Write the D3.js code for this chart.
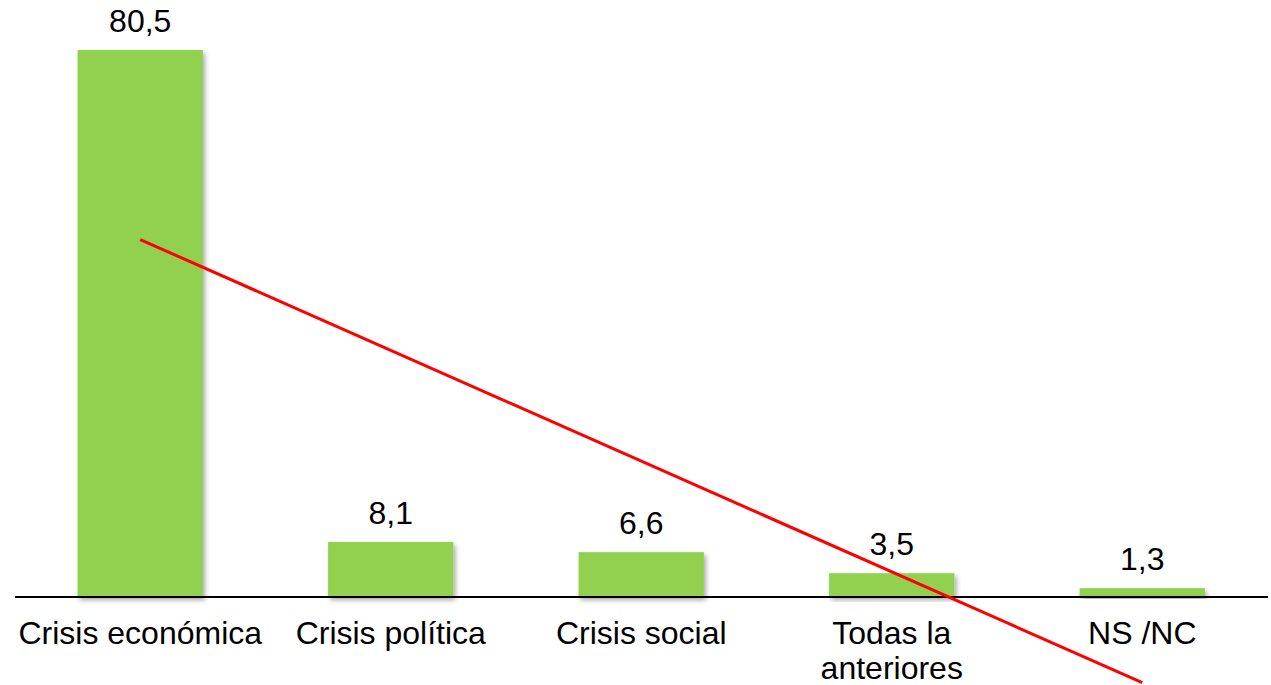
<!DOCTYPE html>
<html>
<head>
<meta charset="utf-8">
<script src="https://cdn.jsdelivr.net/npm/d3@7"></script>
<style>
  body { margin: 0; background: #fff; }
  text { font-family: Arial, "Liberation Sans", sans-serif; }
</style>
</head>
<body>
<div id="chart"></div>
<script>
var categories = ["Crisis económica", "Crisis política", "Crisis social", "Todas la anteriores", "NS /NC"];
var values = [80.5, 8.1, 6.6, 3.5, 1.3];
var valueLabels = ["80,5", "8,1", "6,6", "3,5", "1,3"];

var width = 1271, height = 685;
var svg = d3.select("#chart").append("svg")
    .attr("width", width)
    .attr("height", height);

// soft shadow under the bars
var defs = svg.append("defs");
var f = defs.append("filter").attr("id", "shadow")
    .attr("x", "-10%").attr("y", "-10%").attr("width", "130%").attr("height", "130%");
f.append("feDropShadow")
    .attr("dx", 2).attr("dy", 3).attr("stdDeviation", 2.5)
    .attr("flood-color", "#000").attr("flood-opacity", 0.35);

var x = d3.scaleBand()
    .domain(categories)
    .range([15, 1267.5])
    .paddingInner(0.5)
    .paddingOuter(0.25);

var y = d3.scaleLinear()
    .domain([0, 80.5])
    .range([597, 50]);

var data = categories.map(function(c, i) {
    return {cat: c, value: values[i], label: valueLabels[i]};
});

svg.selectAll(".bar").data(data).enter().append("rect")
    .attr("class", "bar")
    .attr("x", d => x(d.cat))
    .attr("y", d => y(d.value))
    .attr("width", x.bandwidth())
    .attr("height", d => y(0) - y(d.value))
    .attr("fill", "#92d050")
    .attr("filter", "url(#shadow)");

svg.selectAll(".val").data(data).enter().append("text")
    .attr("class", "val")
    .attr("x", d => x(d.cat) + x.bandwidth() / 2)
    .attr("y", d => y(d.value) - 18)
    .attr("text-anchor", "middle")
    .attr("font-size", 32)
    .attr("fill", "#000")
    .text(d => d.label);

// axis
var xAxis = d3.axisBottom(x).tickSize(0).tickPadding(0);
var gx = svg.append("g")
    .attr("transform", "translate(0," + y(0) + ")")
    .call(xAxis);
gx.select(".domain").attr("stroke", "#000").attr("stroke-width", 2).attr("d", "M15,0H1268");
gx.selectAll(".tick text")
    .attr("font-size", 32)
    .attr("font-family", "Arial, 'Liberation Sans', sans-serif")
    .attr("fill", "#000")
    .attr("y", 47)
    .attr("dy", 0)
    .call(wrap, x.step());

function wrap(sel, w) {
    sel.each(function() {
        var text = d3.select(this);
        var words = text.text().split(/\s+/);
        var line = [], lineNo = 0;
        var ty = text.attr("y");
        text.text(null);
        var tspan = text.append("tspan").attr("x", 0).attr("y", ty);
        words.forEach(function(word) {
            line.push(word);
            tspan.text(line.join(" "));
            if (tspan.node().getComputedTextLength() > w && line.length > 1) {
                line.pop();
                tspan.text(line.join(" "));
                line = [word];
                lineNo++;
                tspan = text.append("tspan").attr("x", 0).attr("y", +ty + lineNo * 35).text(word);
            }
        });
    });
}

// linear trend line (least squares over category index)
var n = values.length;
var mx = d3.mean(values, (v, i) => i);
var my = d3.mean(values);
var slope = d3.sum(values, (v, i) => (i - mx) * (v - my)) / d3.sum(values, (v, i) => (i - mx) * (i - mx));
var icpt = my - slope * mx;
var trend = [0, n - 1].map(i => ({cat: categories[i], value: icpt + slope * i}));

svg.append("path")
    .datum(trend)
    .attr("fill", "none")
    .attr("stroke", "#ff0000")
    .attr("stroke-width", 3)
    .attr("d", d3.line()
        .x(d => x(d.cat) + x.bandwidth() / 2)
        .y(d => y(d.value)));
</script>
</body>
</html>
